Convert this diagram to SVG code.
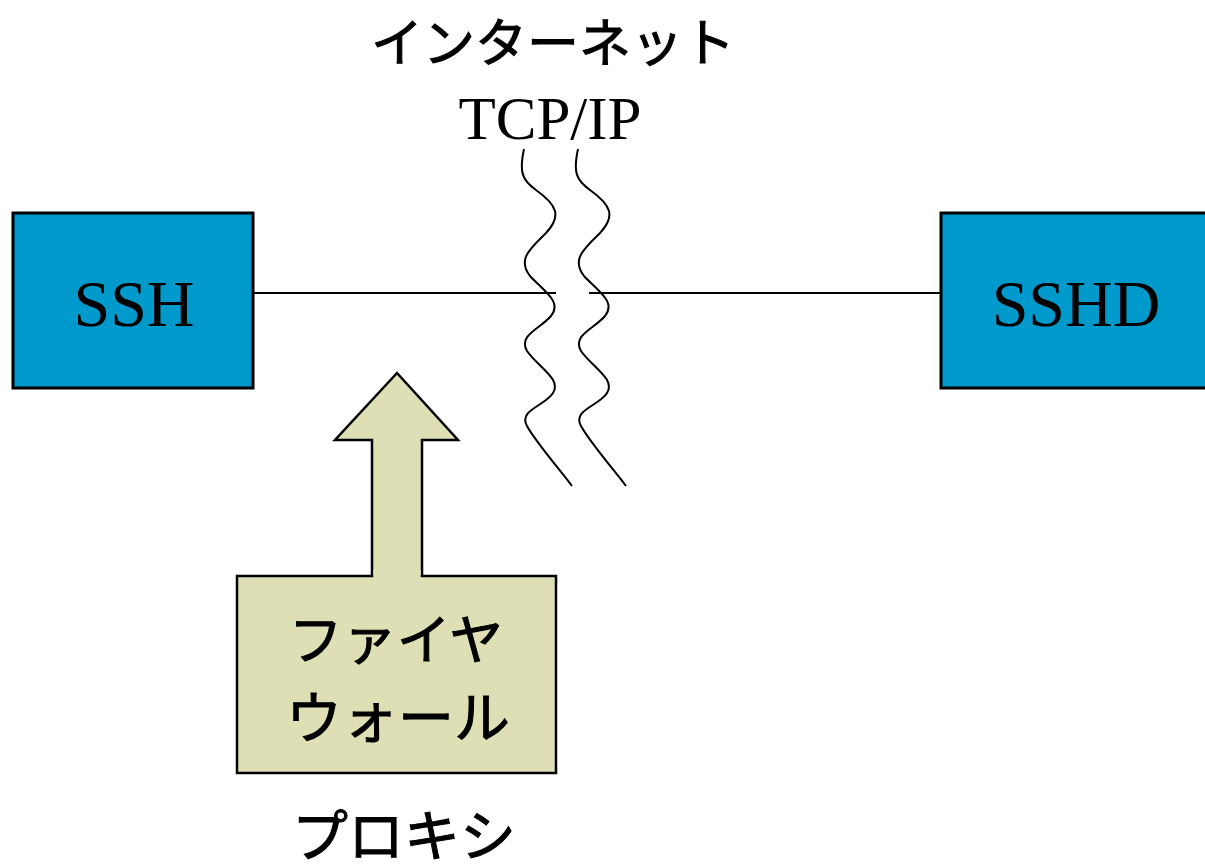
<svg xmlns="http://www.w3.org/2000/svg" width="1205" height="868" viewBox="0 0 1205 868">
<style>
.box{fill:#0099cc;stroke:#000;stroke-width:3}
.fw{fill:#dfdfb6;stroke:#000;stroke-width:2.5}
.lat{font-family:"Liberation Serif",serif;fill:#000}
.jp{font-family:"Noto Sans CJK JP",sans-serif;font-weight:400;fill:#000;stroke:#000;stroke-width:1}
.ln{fill:none;stroke:#000;stroke-width:2}
</style>
<rect width="1205" height="868" fill="#fff"/>
<g id="connectors">
<line class="ln" x1="254" y1="293" x2="556" y2="293"/>
<line class="ln" x1="589" y1="293" x2="941" y2="293"/>
</g>
<g id="waves">
<path id="wave1" class="ln" d="M524,149 C519,172 522,180 536,190 C557,205 562,216 546,233 C530,249 517,259 530,276 C546,293 562,302 551,316 C540,329 518,335 527,351 C538,367 562,379 553,393 C545,406 518,410 527,426 C535,441 560,470 572,486"/>
<path id="wave2" class="ln" transform="translate(54,0)" d="M524,149 C519,172 522,180 536,190 C557,205 562,216 546,233 C530,249 517,259 530,276 C546,293 562,302 551,316 C540,329 518,335 527,351 C538,367 562,379 553,393 C545,406 518,410 527,426 C535,441 560,470 572,486"/>
</g>
<g id="internet">
<text class="jp" x="553" y="62" font-size="52" text-anchor="middle">インターネット</text>
<text class="lat" x="550" y="139" font-size="61" text-anchor="middle">TCP/IP</text>
</g>
<g id="ssh">
<rect class="box" x="13" y="213" width="240" height="175"/>
<text class="lat" x="134" y="326" font-size="66" text-anchor="middle">SSH</text>
</g>
<g id="sshd">
<rect class="box" x="941" y="213" width="270" height="175"/>
<text class="lat" x="1076" y="326" font-size="66" text-anchor="middle">SSHD</text>
</g>
<g id="firewall">
<path class="fw" d="M372,577 L372,440 L335,440 L397,373 L458,440 L422,440 L422,577"/>
<rect class="fw" x="237" y="576" width="319" height="197"/>
<rect x="373.3" y="570" width="47.4" height="8" fill="#dfdfb6"/>
<text class="jp" x="396" y="660" font-size="54" text-anchor="middle">ファイヤ</text>
<text class="jp" x="398" y="738" font-size="56" text-anchor="middle">ウォール</text>
</g>
<g id="proxy">
<text class="jp" x="404" y="856" font-size="56" text-anchor="middle">プロキシ</text>
</g>
</svg>
